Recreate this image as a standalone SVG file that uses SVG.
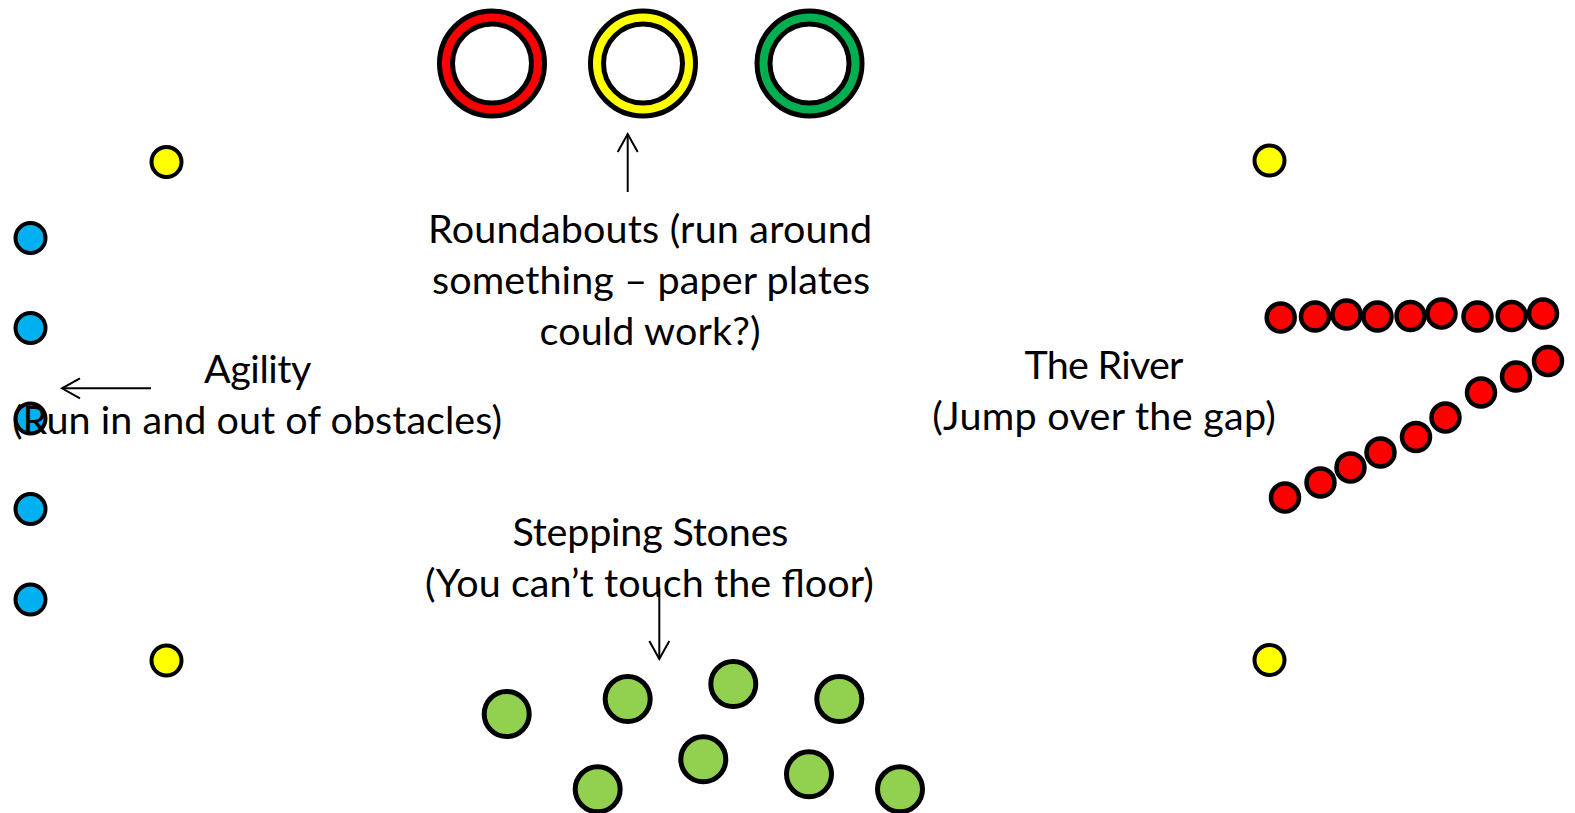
<svg xmlns="http://www.w3.org/2000/svg" width="1575" height="813" viewBox="0 0 1575 813">
<defs>
<style>
.lbl{font-family:Lato,"Open Sans","Liberation Sans",sans-serif;font-size:39.5px;fill:#000;text-anchor:middle}
.ring{stroke:#000;stroke-width:5}
.inner{fill:#fff;stroke:#000;stroke-width:5}
.cone{fill:#ffff00;stroke:#000;stroke-width:4}
.blue{fill:#00b0f0;stroke:#000;stroke-width:4}
.red{fill:#ff0000;stroke:#000;stroke-width:4.5}
.stone{fill:#92d050;stroke:#000;stroke-width:5}
.conn{stroke:#000;stroke-width:2;fill:none}
</style>
<marker id="arr" markerUnits="userSpaceOnUse" viewBox="-22 -14 26 28" markerWidth="26" markerHeight="28" refX="0" refY="0" orient="auto">
<path d="M-18,-10 L0,0 L-18,10" fill="none" stroke="#000" stroke-width="2"/>
</marker>
</defs>
<rect width="1575" height="813" fill="#fff"/>

<g id="roundabouts">
<circle class="ring" cx="492" cy="63.5" r="52.5" fill="#ff0000"/>
<circle class="inner" cx="492" cy="63.5" r="39.5"/>
<circle class="ring" cx="643" cy="63.5" r="52.5" fill="#ffff00"/>
<circle class="inner" cx="643" cy="63.5" r="39.5"/>
<circle class="ring" cx="809.5" cy="63.5" r="52.5" fill="#00b050"/>
<circle class="inner" cx="809.5" cy="63.5" r="39.5"/>
</g>

<g id="cones">
<circle class="cone" cx="166.5" cy="162" r="15"/>
<circle class="cone" cx="166.5" cy="660.5" r="15"/>
<circle class="cone" cx="1269.5" cy="160.5" r="15"/>
<circle class="cone" cx="1269.5" cy="660" r="15"/>
</g>

<g id="agility-obstacles">
<circle class="blue" cx="30.5" cy="238" r="15"/>
<circle class="blue" cx="30.5" cy="328" r="15"/>
<circle class="blue" cx="30.5" cy="418.5" r="15"/>
<circle class="blue" cx="30.5" cy="509" r="15"/>
<circle class="blue" cx="30.5" cy="599.5" r="15"/>
</g>

<g id="river">
<circle class="red" cx="1280.7" cy="317.5" r="14"/>
<circle class="red" cx="1315" cy="316.5" r="14"/>
<circle class="red" cx="1346.5" cy="314.5" r="14"/>
<circle class="red" cx="1377.5" cy="316.5" r="14"/>
<circle class="red" cx="1410.5" cy="316" r="14"/>
<circle class="red" cx="1441.5" cy="313.5" r="14"/>
<circle class="red" cx="1477.5" cy="316.5" r="14"/>
<circle class="red" cx="1511.7" cy="316" r="14"/>
<circle class="red" cx="1543" cy="313.5" r="14"/>
<circle class="red" cx="1285" cy="497.5" r="14"/>
<circle class="red" cx="1320.5" cy="482.5" r="14"/>
<circle class="red" cx="1350.5" cy="467.5" r="14"/>
<circle class="red" cx="1380.5" cy="452.5" r="14"/>
<circle class="red" cx="1416" cy="437" r="14"/>
<circle class="red" cx="1445.5" cy="417.5" r="14"/>
<circle class="red" cx="1481" cy="392.5" r="14"/>
<circle class="red" cx="1516" cy="376.5" r="14"/>
<circle class="red" cx="1548" cy="361" r="14"/>
</g>

<g id="stepping-stones">
<circle class="stone" cx="506.7" cy="714" r="22.5"/>
<circle class="stone" cx="627.7" cy="699" r="22.5"/>
<circle class="stone" cx="733.3" cy="684" r="22.5"/>
<circle class="stone" cx="839.3" cy="699" r="22.5"/>
<circle class="stone" cx="703.3" cy="759.3" r="22.5"/>
<circle class="stone" cx="809" cy="774.3" r="22.5"/>
<circle class="stone" cx="597.7" cy="789.3" r="22.5"/>
<circle class="stone" cx="900" cy="789.3" r="22.5"/>
</g>

<g id="connectors">
<line class="conn" x1="627.7" y1="192" x2="627.7" y2="134" marker-end="url(#arr)"/>
<line class="conn" x1="151" y1="388.3" x2="62" y2="388.3" marker-end="url(#arr)"/>
<line class="conn" x1="659.3" y1="588" x2="659.3" y2="659" marker-end="url(#arr)"/>
</g>

<g id="label-roundabouts">
<text class="lbl" x="650" y="242.5" textLength="444">Roundabouts (run around</text>
<text class="lbl" x="651" y="293.5" textLength="438">something – paper plates</text>
<text class="lbl" x="650" y="344.5" textLength="221">could work?)</text>
</g>
<g id="label-agility">
<text class="lbl" x="257.7" y="382.5" textLength="107.5">Agility</text>
<text class="lbl" x="257" y="433.5" textLength="490">(Run in and out of obstacles)</text>
</g>
<g id="label-river">
<text class="lbl" x="1104" y="379" textLength="159">The River</text>
<text class="lbl" x="1104" y="430" textLength="343.5">(Jump over the gap)</text>
</g>
<g id="label-stepping">
<text class="lbl" x="650.4" y="545.5" textLength="276">Stepping Stones</text>
<text class="lbl" x="649.4" y="596.5" textLength="449">(You can’t touch the floor)</text>
</g>
</svg>
